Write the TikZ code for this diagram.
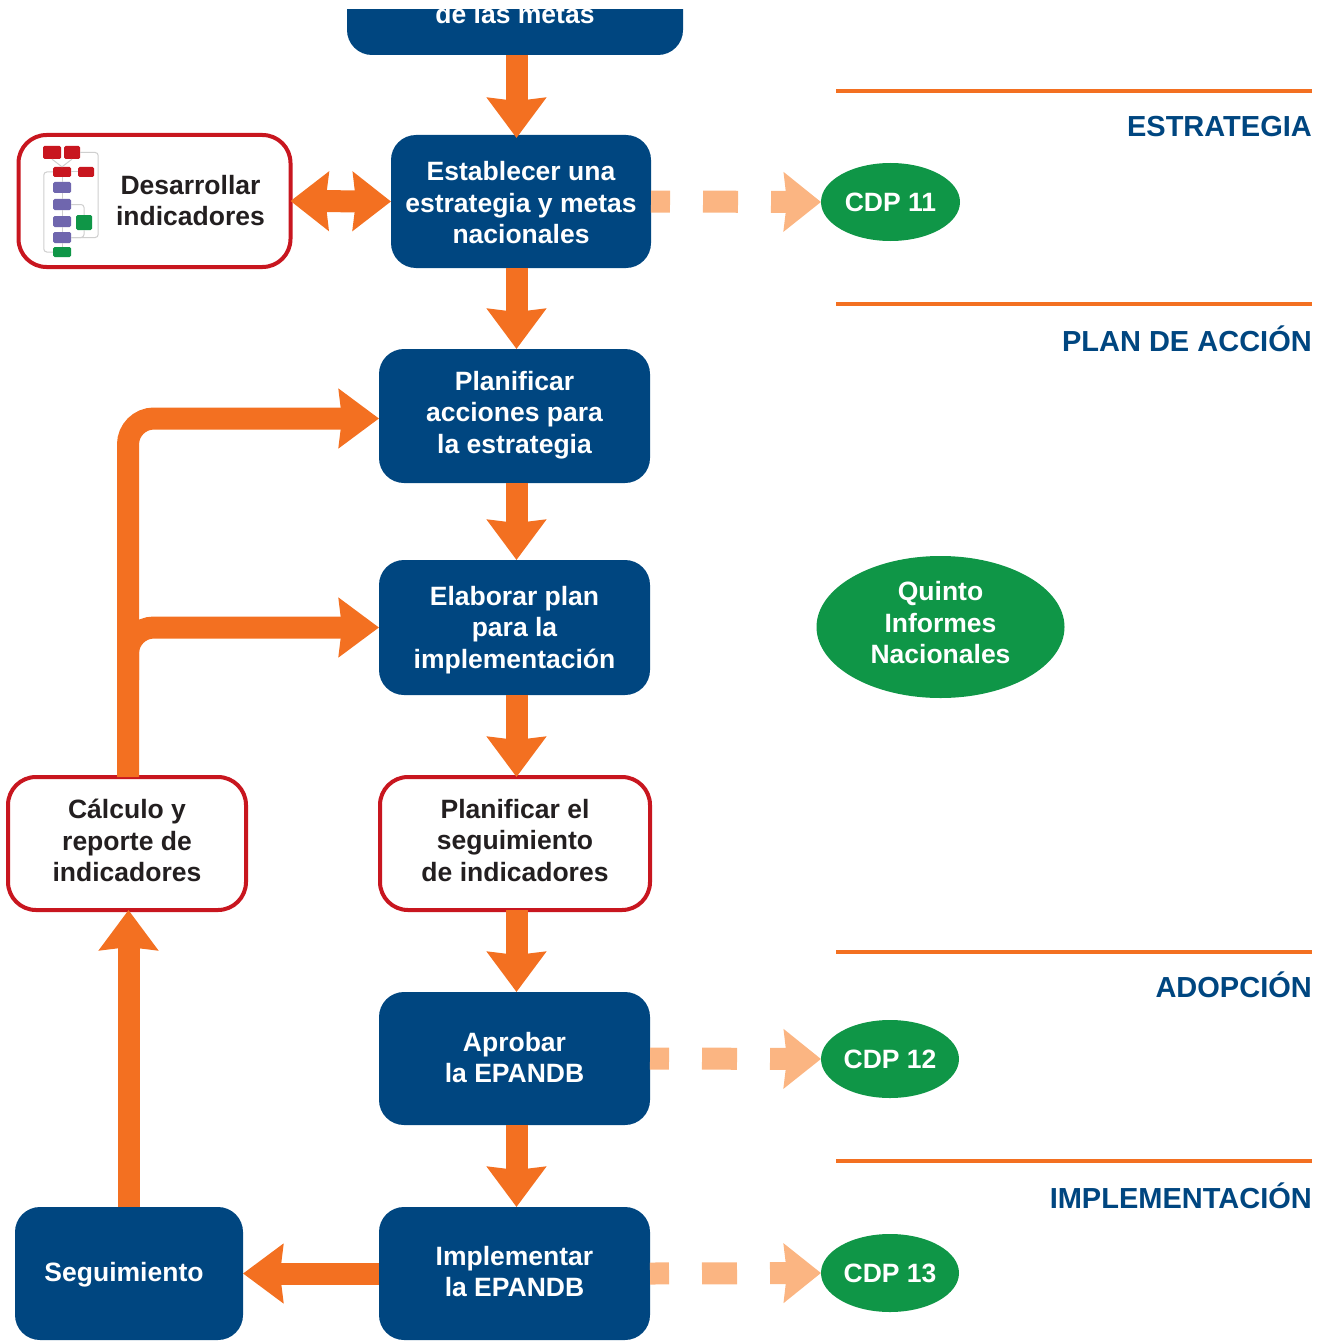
\documentclass[tikz,border=0pt]{standalone}
\usepackage{fontspec}
\setmainfont{Liberation Sans}
\usetikzlibrary{arrows.meta,shapes.geometric}
\definecolor{cblue}{HTML}{004680}
\definecolor{corange}{HTML}{F37021}
\definecolor{cpale}{HTML}{FBB582}
\definecolor{cgreen}{HTML}{0F9647}
\definecolor{cred}{HTML}{C8161F}
\definecolor{cink}{HTML}{231F20}
\definecolor{cpurple}{HTML}{6F66AE}
\definecolor{cgrey}{HTML}{CFCFCF}
\tikzset{
  x=1pt,y=-1pt,
  txt/.style={font=\fontsize{26.5}{31.5}\selectfont\bfseries,align=center,inner sep=0pt},
  wtxt/.style={txt,text=white},
  dtxt/.style={txt,text=cink},
  bluebox/.style={rectangle,rounded corners=25pt,fill=cblue,outer sep=0pt},
  redbox/.style={rectangle,rounded corners=28pt,draw=cred,line width=4pt,fill=white,outer sep=0pt},
  cdp/.style={ellipse,fill=cgreen,text=white,txt,outer sep=0pt},
  flow/.style={draw=corange,line width=22pt,-{Stealth[length=40pt,width=58pt,inset=3pt]}},
  flowtwo/.style={draw=corange,line width=22pt,{Stealth[length=38pt,width=58pt,inset=3pt]}-{Stealth[length=38pt,width=58pt,inset=3pt]}},
  pale/.style={draw=cpale,line width=22pt,dash pattern=on 35pt off 33pt,dash phase=16pt,-{Stealth[length=37pt,width=58pt,inset=3pt]}},
  rule/.style={draw=corange,line width=3.5pt},
  sect/.style={font=\fontsize{29}{34}\selectfont\bfseries,text=cblue,inner sep=0pt,anchor=base east},
  ired/.style={rectangle,rounded corners=1.5pt,fill=cred,inner sep=0pt},
  ipur/.style={rectangle,rounded corners=1.5pt,fill=cpurple,inner sep=0pt},
  igrn/.style={rectangle,rounded corners=1.5pt,fill=cgreen,inner sep=0pt},
  ilink/.style={draw=cgrey,line width=1pt,rounded corners=3pt},
}
\begin{document}
\begin{tikzpicture}
\useasboundingbox (0,0) rectangle (1318,1343);
% clipped top box
\begin{scope}
\clip (0,10) rectangle (1318,1343);
\node[bluebox,minimum width=336pt,minimum height=85pt] (metas) at (515,12.5) {};
\node[wtxt] (metastxt) at (515,14) {de las metas};
\end{scope}
% boxes
\node[bluebox,minimum width=260pt,minimum height=133pt] (est) at (521,201.5) {};
\node[wtxt] (esttxt) at (521,203) {Establecer una\\estrategia y metas\\nacionales};
\node[bluebox,minimum width=271pt,minimum height=134pt] (plan) at (514.5,416) {};
\node[wtxt] (plantxt) at (514.5,415) {Planificar\\acciones para\\la estrategia};
\node[bluebox,minimum width=271pt,minimum height=135pt] (elab) at (514.5,627.5) {};
\node[wtxt] (elabtxt) at (514.5,630) {Elaborar plan\\para la\\implementación};
\node[redbox,minimum width=270pt,minimum height=133pt] (pseg) at (515,843.5) {};
\node[dtxt] (psegtxt) at (515,840.5) {Planificar el\\seguimiento\\de indicadores};
\node[bluebox,minimum width=271pt,minimum height=133pt] (apro) at (514.5,1058.5) {};
\node[wtxt] (aprotxt) at (514.5,1057.5) {Aprobar\\la EPANDB};
\node[bluebox,minimum width=271pt,minimum height=133pt] (impl) at (514.5,1273.5) {};
\node[wtxt] (impltxt) at (514.5,1271.5) {Implementar\\la EPANDB};
\node[bluebox,minimum width=228pt,minimum height=133pt] (segui) at (129,1273.5) {};
\node[wtxt] (seguitxt) at (124,1275) {Seguimiento};
\node[redbox,minimum width=238pt,minimum height=133pt] (calc) at (127,843.5) {};
\node[dtxt] (calctxt) at (127,840.5) {Cálculo y\\reporte de\\indicadores};
\node[redbox,minimum width=272pt,minimum height=132pt] (des) at (154.5,201) {};
\node[dtxt] (destxt) at (190.5,200.5) {Desarrollar\\indicadores};
% ellipses
\node[cdp,minimum width=139pt,minimum height=78pt,inner sep=0pt] (c11) at (890.5,202) {CDP 11};
\node[cdp,minimum width=138pt,minimum height=78pt,inner sep=0pt] (c12) at (890,1059) {CDP 12};
\node[cdp,minimum width=138pt,minimum height=78pt,inner sep=0pt] (c13) at (890,1273) {CDP 13};
\node[cdp,minimum width=248pt,minimum height=142pt,inner sep=0pt] (quinto) at (940.5,627) {};
\node[wtxt] (quintotxt) at (940.5,623) {Quinto\\Informes\\Nacionales};
% vertical spine
\coordinate (spine) at (516.5,0);
\draw[flow] (metas.south -| spine) -- ([yshift=-3pt]est.north -| spine);
\draw[flow] (est.south -| spine) -- (plan.north -| spine);
\draw[flow] (plan.south -| spine) -- (elab.north -| spine);
\draw[flow] (elab.south -| spine) -- (pseg.north -| spine);
\draw[flow] (pseg.south -| spine) -- (apro.north -| spine);
\draw[flow] (apro.south -| spine) -- (impl.north -| spine);
\draw[flow] (impl.west) -- (segui.east);
\coordinate (upx) at (128.5,0);
\draw[flow] (segui.north -| upx) -- (calc.south -| upx);
\draw[flowtwo] (des.east) -- (est.west);
% feedback loop
\coordinate (loopx) at (128,0);
\coordinate (toplan) at ([yshift=-2.5pt]plan.west);
\coordinate (toelab) at (elab.west);
\coordinate (branch) at (128,680);
\draw[flow,rounded corners=26pt] (calc.north -| loopx) |- (toplan);
\draw[flow,rounded corners=26pt] (branch) |- (toelab);
% pale dashed
\draw[pale] (est.east) -- (c11.west);
\draw[pale] (apro.east) -- (c12.west);
\draw[pale] (impl.east) -- (c13.west);
% rules
\foreach \n/\y in {a/91,b/304,c/952,d/1161}{
  \coordinate (r\n l) at (836,\y);
  \coordinate (r\n r) at (1312,\y);
  \draw[rule] (r\n l) -- (r\n r);
}
\node[sect] (s1) at (1312,137) {ESTRATEGIA};
\node[sect] (s2) at (1312,351) {PLAN DE ACCIÓN};
\node[sect] (s3) at (1312,997) {ADOPCIÓN};
\node[sect] (s4) at (1312,1208) {IMPLEMENTACIÓN};
% icon links
\coordinate (ia) at (52,157);
\node[ired,minimum width=18pt,minimum height=13pt] (i1) at (52,152.5) {};
\node[ired,minimum width=16pt,minimum height=13pt] (i2) at (72,152.5) {};
\node[ired,minimum width=18pt,minimum height=10pt] (i3) at (62,172) {};
\node[ired,minimum width=16pt,minimum height=10pt] (i4) at (86,172) {};
\node[ipur,minimum width=18pt,minimum height=11pt] (i5) at (62,187.5) {};
\node[ipur,minimum width=18pt,minimum height=11pt] (i6) at (62,204.5) {};
\node[ipur,minimum width=18pt,minimum height=11pt] (i7) at (62,221.5) {};
\node[ipur,minimum width=18pt,minimum height=11pt] (i8) at (62,237.5) {};
\node[igrn,minimum width=18pt,minimum height=10pt] (i9) at (62,252) {};
\node[igrn,minimum width=16pt,minimum height=15pt] (i10) at (84,222.5) {};
\draw[ilink] (i1.south) -- (i3.north);
\draw[ilink] (i2.south) -- (i3.north);
\draw[ilink] (i4.west) -- (i3.east);
\draw[ilink] (i3.south) -- (i5.north);
\draw[ilink] (i5.south) -- (i6.north);
\draw[ilink] (i6.south) -- (i7.north);
\draw[ilink] (i7.south) -- (i8.north);
\draw[ilink] (i8.south) -- (i9.north);
\draw[ilink] (i6.east) -| (i10.north);
\draw[ilink] (i8.east) -| (i10.south);
\draw[ilink] (i9.west) -- ++(-9,0) |- (i3.west);
\draw[ilink] (i8.east) -- ++(27,0) |- (i2.east);
\end{tikzpicture}
\end{document}
